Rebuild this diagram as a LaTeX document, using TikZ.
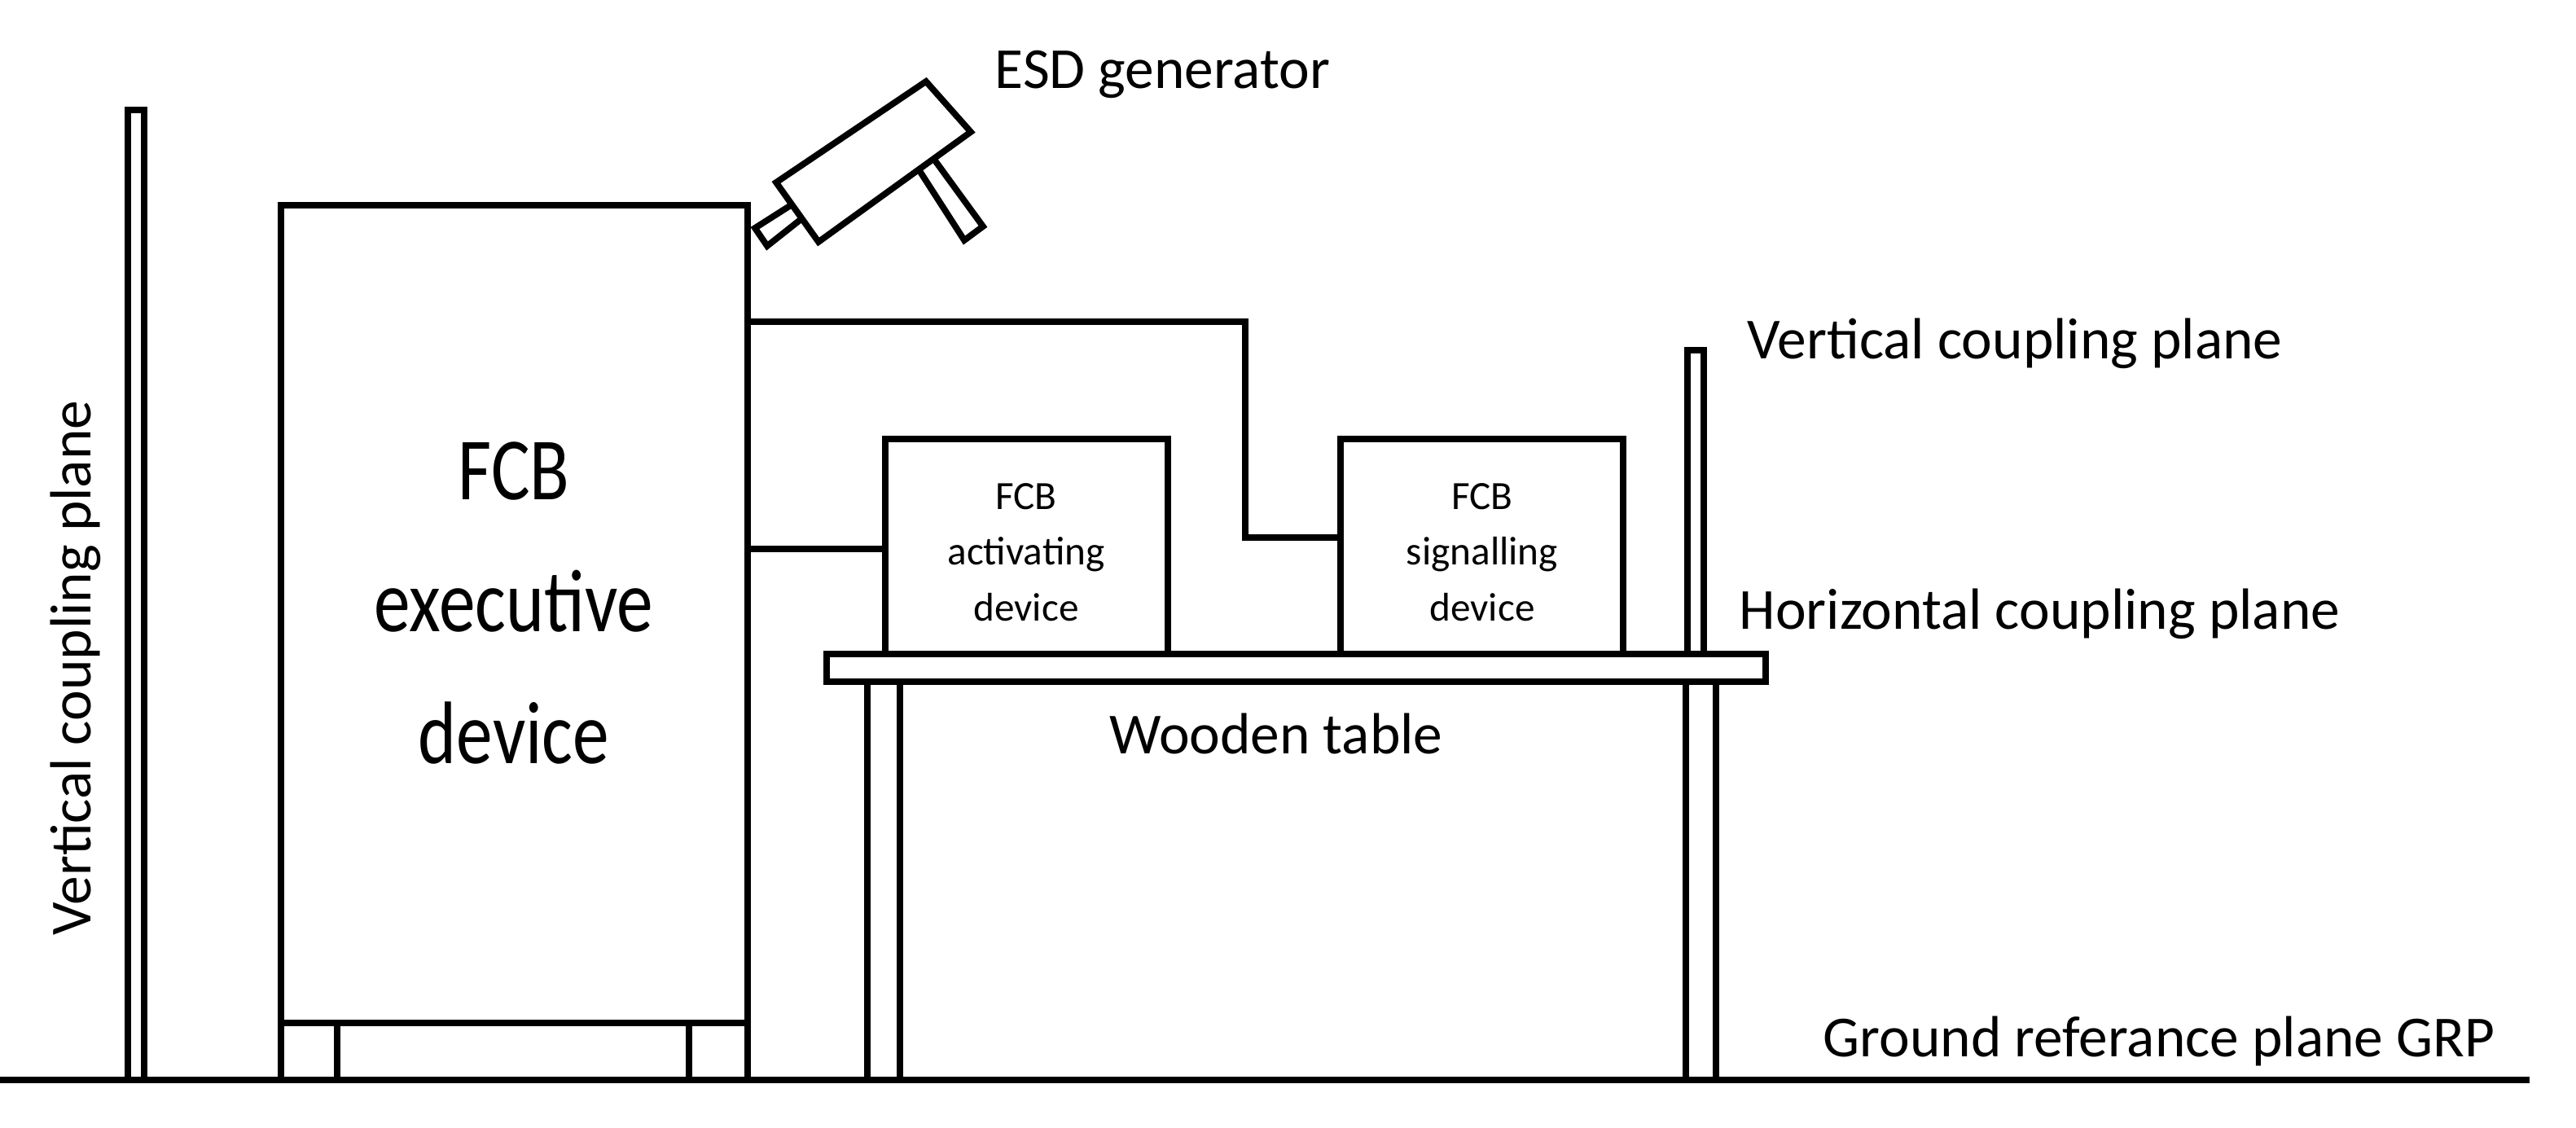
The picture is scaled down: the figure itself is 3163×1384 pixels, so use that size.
\documentclass[tikz,border=0pt]{standalone}
\usepackage{fontspec}
\setmainfont{Carlito}
\begin{document}
\begin{tikzpicture}[x=0.01cm,y=-0.01cm,line width=2.2pt,
  lbl/.style={font=\fontsize{20.3}{24}\selectfont,inner sep=0},
  big/.style={font=\fontsize{31}{43}\selectfont,align=center,inner sep=0},
  sm/.style={font=\fontsize{14}{19.5}\selectfont,align=center,inner sep=0}]
\useasboundingbox (0,0) rectangle (3163,1384);
% ground
\draw (0,1326) coordinate (g0) -- (3106,1326) coordinate (g1);
% left vertical plane
\draw (157,1326) rectangle (177,135);
% cabinet
\draw (345,1326) rectangle (918,252);
\draw (345,1256) -- (918,1256);
\draw (414,1256) -- (414,1326);
\draw (846,1256) -- (846,1326);
% boxes
\draw (1087,539) rectangle (1434,803);
\draw (1646,539) rectangle (1993,803);
% right plane and legs
\draw (2072,803) -- (2072,430) -- (2092,430) -- (2092,803);
\draw (1065,837) rectangle (1105,1326);
\draw (2070,837) rectangle (2107,1326);
% table top
\draw (1015,803) rectangle (2168,837);
% wires
\coordinate (w1a) at (918,674); \coordinate (w1b) at (1087,674);
\draw (w1a) -- (w1b);
\coordinate (w2a) at (918,395); \coordinate (w2b) at (1646,660);
\draw (w2a) -- (1529,395) -- (1529,660) -- (w2b);
% ESD generator
\draw (953,224) -- (1137,100) -- (1192,162) -- (1005,297) -- cycle;
\draw (971,252) -- (927,280) -- (942,302) -- (985,268);
\draw (1128,208) -- (1184,295) -- (1207,278) -- (1148,197);
% texts
\node[lbl,anchor=base west] at (1218,108) {ESD generator};
\node[lbl,anchor=base west] at (2142,440) {Vertical coupling plane};
\node[lbl,anchor=base west] at (2132,772) {Horizontal coupling plane};
\node[lbl,anchor=base west] at (2235,1297) {Ground referance plane GRP};
\node[lbl,anchor=base] at (1567,925) {Wooden table};
\node[lbl,rotate=90,anchor=base] at (111,820) {Vertical coupling plane};
\node[big] at (631,745) {\scalebox{0.82}[1]{\begin{tabular}{c}FCB\\[3pt]executive\\[3pt]device\end{tabular}}};
\node[sm] at (1260,678) {FCB\\activating\\device};
\node[sm] at (1820,678) {FCB\\signalling\\device};
\end{tikzpicture}
\end{document}
